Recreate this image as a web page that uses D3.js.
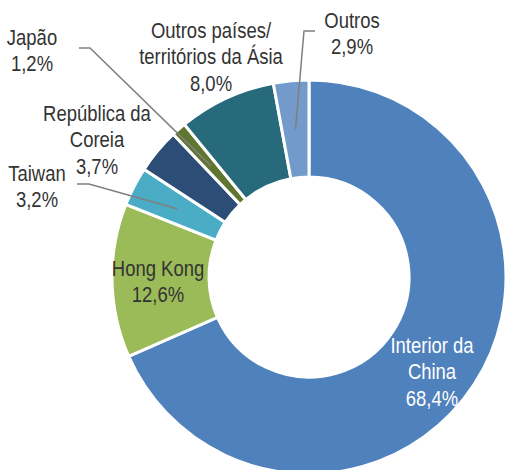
<!DOCTYPE html>
<html><head><meta charset="utf-8">
<script src="https://cdn.jsdelivr.net/npm/d3@7"></script>
<style>
html,body{margin:0;padding:0;background:#fff;}
svg text{font-family:"Liberation Sans Narrow","Arial Narrow","Liberation Sans",Arial,sans-serif;}
</style></head>
<body>
<svg id="c" width="507" height="470"></svg>
<script>
const categories = ["Interior da China","Hong Kong","Taiwan","República da Coreia","Japão","Outros países/ territórios da Ásia","Outros"];
const values = [68.4, 12.6, 3.2, 3.7, 1.2, 8.0, 2.9];
const valueLabels = ["68,4%","12,6%","3,2%","3,7%","1,2%","8,0%","2,9%"];
const labelLines = [["Interior da","China"],["Hong Kong"],["Taiwan"],["República da","Coreia"],["Japão"],["Outros países/","territórios da Ásia"],["Outros"]];
const colors = ["#4F81BD","#9BBB59","#4BACC6","#2C4D75","#5F7530","#276A7C","#729ACA"];

const svg = d3.select("#c");
const cx = 309, cy = 277, R = 197, r = 100;
const g = svg.append("g").attr("transform", `translate(${cx},${cy})`);
const pie = d3.pie().sort(null).value(d => d)(values);
const arc = d3.arc().innerRadius(r).outerRadius(R);
g.selectAll("path").data(pie).join("path")
  .attr("d", arc).attr("fill", (d,i) => colors[i])
  .attr("stroke", "#fff").attr("stroke-width", 3).attr("stroke-linejoin","miter");

const fs = 22, lh = 26.5, sx = 0.84;
const labelPos = [
  {x:432, y:345, color:"#fff"},
  {x:158, y:268, color:"#333"},
  {x:37, y:173, color:"#333"},
  {x:97, y:113, color:"#333"},
  {x:32, y:37, color:"#333"},
  {x:211, y:30, color:"#333"},
  {x:352, y:20, color:"#333"}
];
const leaders = [
  null, null,
  {pts:[[77,184],[89,184]], slice:2},
  null,
  {pts:[[79,48],[90,48]], slice:4},
  null,
  {pts:[[315,31],[304,31]], slice:6}
];
leaders.forEach((L) => {
  if (!L) return;
  const c = arc.centroid(pie[L.slice]);
  const pts = L.pts.concat([[cx + c[0], cy + c[1]]]);
  svg.append("path").attr("d", d3.line()(pts))
    .attr("fill","none").attr("stroke","#7f7f7f").attr("stroke-width",1.5);
});
labelPos.forEach((p, i) => {
  const lines = labelLines[i].concat([valueLabels[i]]);
  const t = svg.append("g").attr("transform", `translate(${p.x},${p.y}) scale(${sx},1)`)
    .append("text").attr("text-anchor","middle")
    .attr("fill", p.color).attr("font-size", fs);
  lines.forEach((s, k) => {
    t.append("tspan").attr("x", 0).attr("y", k*lh).attr("dy","0.35em").text(s);
  });
});
</script>
</body></html>
